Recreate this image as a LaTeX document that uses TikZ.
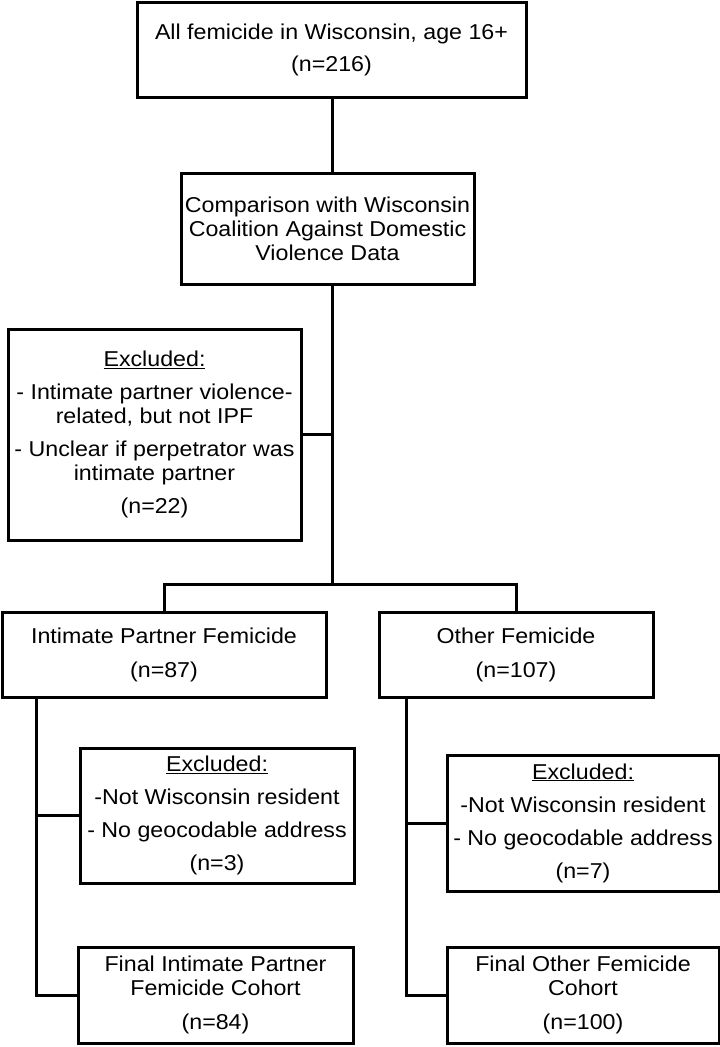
\documentclass[tikz,border=0pt]{standalone}
\usepackage{fontspec}
\setmainfont{Liberation Sans}[FakeStretch=1.08]
\begin{document}
\begin{tikzpicture}[x=1pt,y=-1pt,
  box/.style={draw,line width=3pt,rectangle,inner sep=0pt,align=center,
    font=\fontsize{21.5}{24}\selectfont},
  conn/.style={line width=3pt}]
\useasboundingbox (0,0) rectangle (720,1047);
\node[box,minimum width=389,minimum height=95] (b1) at (331.5,49.5)
  {All femicide in Wisconsin, age 16+\\[8pt](n=216)};
\node[box,minimum width=293,minimum height=111] (b2) at (327.5,228.5)
  {Comparison with Wisconsin\\Coalition Against Domestic\\Violence Data};
\node[box,minimum width=293,minimum height=211] (ex1) at (154.5,434.5)
  {\underline{Excluded:}\\[9pt]- Intimate partner violence-\\related, but not IPF\\[9pt]- Unclear if perpetrator was\\intimate partner\\[9pt](n=22)};
\node[box,minimum width=324,minimum height=85] (ipf) at (164,654.5)
  {Intimate Partner Femicide\\[10pt](n=87)};
\node[box,minimum width=274,minimum height=85] (oth) at (516,654.5)
  {Other Femicide\\[10pt](n=107)};
\node[box,minimum width=274,minimum height=135] (ex2) at (217,815.5)
  {\underline{Excluded:}\\[9pt]-Not Wisconsin resident\\[9pt]- No geocodable address\\[9pt](n=3)};
\node[box,minimum width=275,minimum height=96] (fipf) at (215.5,995)
  {Final Intimate Partner\\Femicide Cohort\\[10pt](n=84)};
\node[box,minimum width=272,minimum height=136] (ex3) at (583,823)
  {\underline{Excluded:}\\[9pt]-Not Wisconsin resident\\[9pt]- No geocodable address\\[9pt](n=7)};
\node[box,minimum width=272,minimum height=96] (foth) at (583,995)
  {Final Other Femicide\\Cohort\\[10pt](n=100)};
\coordinate (sp) at (332,434.5);
\coordinate (j2) at (332,584);
\coordinate (lb) at (36,700);
\coordinate (rb) at (406,700);
\draw[conn] (b1.south -| sp) -- (b2.north -| sp);
\draw[conn] (b2.south -| sp) -- (j2);
\draw[conn] (ex1.east) -- (sp);
\draw[conn] (ipf.north) |- (j2) -| (oth.north);
\draw[conn] (ipf.south -| lb) |- (fipf.west);
\draw[conn] (ex2.west) -- (ex2.west -| lb);
\draw[conn] (oth.south -| rb) |- (foth.west);
\draw[conn] (ex3.west) -- (ex3.west -| rb);
\end{tikzpicture}
\end{document}
